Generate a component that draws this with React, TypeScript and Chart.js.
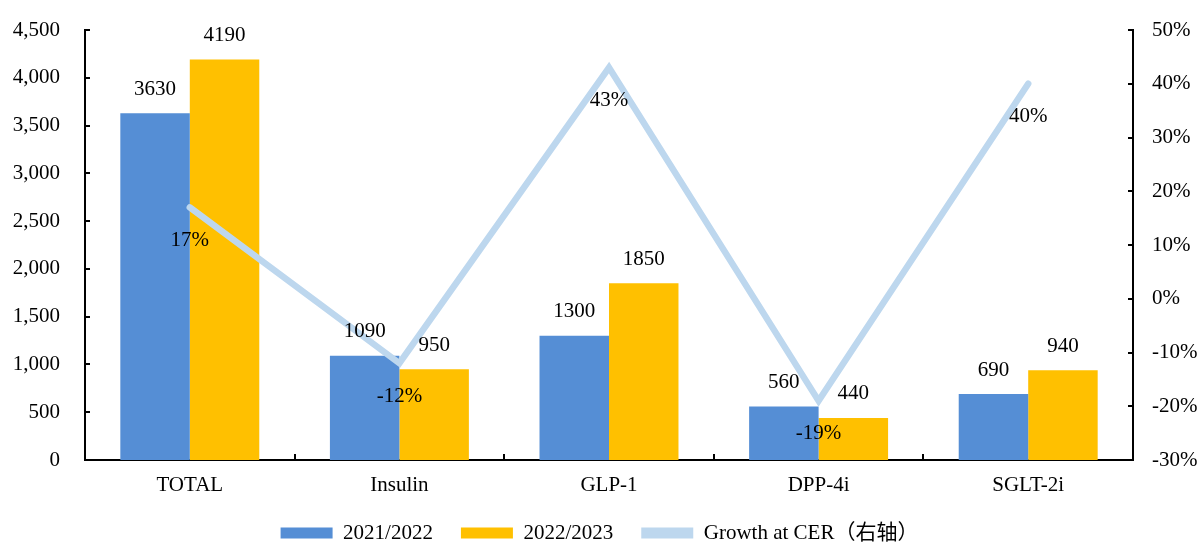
import React, { useEffect, useRef } from "react";
import { Chart, registerables } from "chart.js";

Chart.register(...registerables);

const categories = ["TOTAL", "Insulin", "GLP-1", "DPP-4i", "SGLT-2i"];
const sales2122 = [3630, 1090, 1300, 560, 690];
const sales2223 = [4190, 950, 1850, 440, 940];
const growthCER = [17, -12, 43, -19, 40];
const seriesNames = ["2021/2022", "2022/2023", "Growth at CER（右轴）"];
const leftAxis = { min: 0, max: 4500, step: 500 };
const rightAxis = { min: -30, max: 50, step: 10 };

const FONT = '"Liberation Serif", "Times New Roman", "Noto Sans CJK SC", serif';
const FS = 21;

const valueLabels = {
  id: "valueLabels",
  afterDatasetsDraw(chart: any) {
    const ctx = chart.ctx;
    ctx.save();
    ctx.font = `${FS}px ${FONT}`;
    ctx.fillStyle = "#000";
    ctx.textAlign = "center";
    ctx.textBaseline = "middle";
    chart.data.datasets.forEach((ds: any, di: number) => {
      const meta = chart.getDatasetMeta(di);
      meta.data.forEach((el: any, i: number) => {
        const v = ds.data[i];
        if (ds.type === "line") ctx.fillText(v + "%", el.x, el.y + 33);
        else ctx.fillText(String(v), el.x, el.y - 24);
      });
    });
    ctx.restore();
  },
};

const innerTicks = {
  id: "innerTicks",
  afterDraw(chart: any) {
    const { ctx, chartArea, scales } = chart;
    ctx.save();
    ctx.strokeStyle = "#000";
    ctx.lineWidth = 2;
    const seg = (x1: number, y1: number, x2: number, y2: number) => {
      ctx.beginPath();
      ctx.moveTo(x1, y1);
      ctx.lineTo(x2, y2);
      ctx.stroke();
    };
    scales.y.ticks.forEach((t: any) => {
      const py = Math.round(scales.y.getPixelForValue(t.value));
      seg(chartArea.left, py, chartArea.left + 5, py);
    });
    scales.y1.ticks.forEach((t: any) => {
      const py = Math.round(scales.y1.getPixelForValue(t.value));
      seg(chartArea.right - 5, py, chartArea.right, py);
    });
    const n = categories.length;
    const w = (chartArea.right - chartArea.left) / n;
    for (let i = 1; i < n; i++) {
      const px = Math.round(chartArea.left + i * w);
      seg(px, chartArea.bottom, px, chartArea.bottom - 6);
    }
    ctx.restore();
  },
};

export default function App() {
  const ref = useRef<HTMLCanvasElement>(null);
  useEffect(() => {
    const chart = new Chart(ref.current as HTMLCanvasElement, {
      type: "bar",
      data: {
        labels: categories,
        datasets: [
          {
            type: "bar",
            label: seriesNames[0],
            data: sales2122,
            backgroundColor: "#558ED5",
            yAxisID: "y",
            order: 1,
            categoryPercentage: 0.663,
            barPercentage: 1,
          } as any,
          {
            type: "bar",
            label: seriesNames[1],
            data: sales2223,
            backgroundColor: "#FFC000",
            yAxisID: "y",
            order: 1,
            categoryPercentage: 0.663,
            barPercentage: 1,
          } as any,
          {
            type: "line",
            label: seriesNames[2],
            data: growthCER,
            borderColor: "#BDD7EE",
            backgroundColor: "#BDD7EE",
            borderWidth: 6.5,
            pointRadius: 0,
            tension: 0,
            borderCapStyle: "round",
            yAxisID: "y1",
            order: 0,
          } as any,
        ],
      },
      options: {
        responsive: false,
        animation: false,
        layout: { padding: { top: 30, left: 0, right: 0, bottom: 0 } },
        plugins: {
          tooltip: { enabled: false },
          legend: {
            position: "bottom",
            maxHeight: 48.5,
            labels: {
              font: { size: FS, family: FONT },
              color: "#000",
              boxWidth: 52,
              boxHeight: 11,
              padding: 28,
              sort: (a: any, b: any) => a.datasetIndex - b.datasetIndex,
              generateLabels: (c: any) =>
                Chart.defaults.plugins.legend.labels
                  .generateLabels(c)
                  .map((l: any) => ({ ...l, lineWidth: 0, strokeStyle: "rgba(0,0,0,0)" })),
            },
          } as any,
        },
        scales: {
          x: {
            grid: { display: false, drawTicks: false },
            border: { display: true, color: "#000", width: 2 },
            ticks: { font: { size: FS, family: FONT }, color: "#000", padding: 12.4 },
            afterFit: (s: any) => {
              s.height = 34.5;
            },
          },
          y: {
            position: "left",
            min: leftAxis.min,
            max: leftAxis.max,
            grid: { display: false, drawTicks: false },
            border: { display: true, color: "#000", width: 2 },
            ticks: {
              stepSize: leftAxis.step,
              font: { size: FS, family: FONT },
              color: "#000",
              padding: 25,
              callback: (v: any) => Number(v).toLocaleString("en-US"),
            },
            afterFit: (s: any) => {
              s.width = 85;
              s.paddingTop = 10;
              s.paddingBottom = 10;
            },
          },
          y1: {
            position: "right",
            min: rightAxis.min,
            max: rightAxis.max,
            grid: { display: false, drawTicks: false },
            border: { display: true, color: "#000", width: 2 },
            ticks: {
              stepSize: rightAxis.step,
              font: { size: FS, family: FONT },
              color: "#000",
              padding: 19,
              callback: (v: any) => v + "%",
            },
            afterFit: (s: any) => {
              s.width = 66;
              s.paddingTop = 10;
              s.paddingBottom = 10;
            },
          },
        },
      } as any,
      plugins: [valueLabels, innerTicks],
    });
    return () => chart.destroy();
  }, []);
  return (
    <canvas
      ref={ref}
      width={1199}
      height={543}
      style={{ position: "fixed", left: 0, top: 0, display: "block", background: "#fff" }}
    />
  );
}
